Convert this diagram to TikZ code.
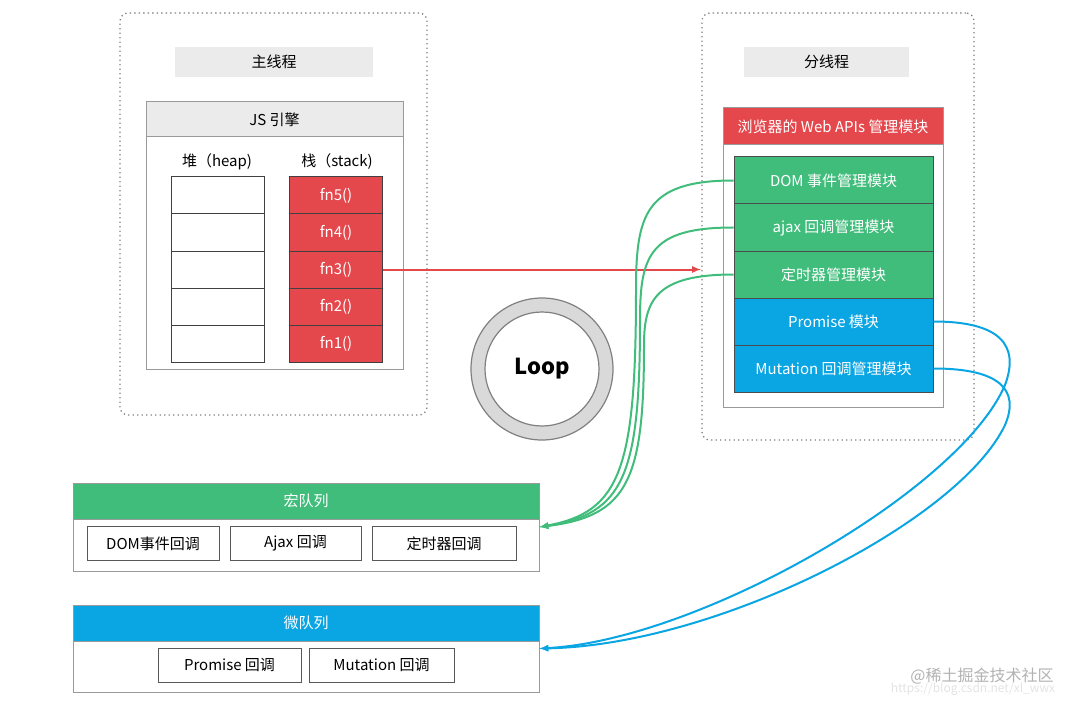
\documentclass[tikz,border=0pt]{standalone}
\usepackage{fontspec}
\setmainfont{Noto Sans CJK SC}
\usetikzlibrary{arrows}
\definecolor{redbox}{HTML}{E4484D}
\definecolor{greenbox}{HTML}{40BC7B}
\definecolor{bluebox}{HTML}{0AA5E3}
\definecolor{lightbar}{HTML}{EBEBEB}
\definecolor{framegray}{HTML}{9A9A9A}

\begin{document}
\begin{tikzpicture}[x=1pt,y=-1pt]
\tikzstyle{every node}=[rectangle, inner sep=0pt, font=\fontsize{15}{18}\selectfont]
\tikzstyle{thread}=[draw=gray, line width=1.3pt, dash pattern=on 1.3pt off 3.2pt, rounded corners=8pt]
\tikzstyle{titlebar}=[fill=lightbar, minimum height=30pt]
\tikzstyle{frame}=[draw=framegray, line width=1pt]
\tikzstyle{cell}=[draw=black!75, line width=1pt, minimum width=93pt, minimum height=37pt]
\tikzstyle{module}=[draw=black!70, line width=1pt, text=white, minimum width=199pt, minimum height=47pt]
\tikzstyle{cb}=[draw=black!65, line width=1pt, minimum height=34pt]
\tikzstyle{flow}=[line width=2pt, -latex]
\useasboundingbox (0,0) rectangle (1080,706);

% main thread
\draw (273.5,214) node (mainthread) [thread, minimum width=307pt, minimum height=402pt] {};
\draw (274,62) node (maintitle) [titlebar, minimum width=198pt] {主线程};
\draw (274.5,235.5) node (engine) [frame, minimum width=257pt, minimum height=267pt] {};
\draw (274.5,119.5) node (enginehead) [frame, fill=lightbar, minimum width=257pt, minimum height=35pt] {JS 引擎};
\draw (217,162) node (heaplabel) {堆（heap)};
\draw (337,162) node (stacklabel) {栈（stack)};
\draw (217.5,195.5) node (h5) [cell] {};
\draw (217.5,232.5) node (h4) [cell] {};
\draw (217.5,269.5) node (h3) [cell] {};
\draw (217.5,306.5) node (h2) [cell] {};
\draw (217.5,343.5) node (h1) [cell] {};
\draw (336,195.5) node (s5) [cell, fill=redbox, text=white] {fn5()};
\draw (336,232.5) node (s4) [cell, fill=redbox, text=white] {fn4()};
\draw (336,269.5) node (s3) [cell, fill=redbox, text=white] {fn3()};
\draw (336,306.5) node (s2) [cell, fill=redbox, text=white] {fn2()};
\draw (336,343.5) node (s1) [cell, fill=redbox, text=white] {fn1()};

% worker thread
\draw (838,226.5) node (subthread) [thread, minimum width=272pt, minimum height=427pt] {};
\draw (826.5,62) node (subtitle) [titlebar, minimum width=165pt] {分线程};
\draw (833,257.5) node (webapi) [frame, minimum width=220pt, minimum height=299pt] {};
\draw (833,126.5) node (webapihead) [frame, fill=redbox, text=white, minimum width=220pt, minimum height=37pt] {浏览器的 Web APIs 管理模块};
\draw (833.5,180.5) node (dom) [module, fill=greenbox] {DOM 事件管理模块};
\draw (833.5,227.5) node (ajax) [module, fill=greenbox] {ajax 回调管理模块};
\draw (833.5,274.5) node (timer) [module, fill=greenbox] {定时器管理模块};
\draw (833.5,321.5) node (promise) [module, fill=bluebox] {Promise 模块};
\draw (833.5,368.5) node (mutation) [module, fill=bluebox] {Mutation 回调管理模块};
\coordinate (apiin) at (701,269.5);

% event loop
\draw (542,369) node (loopring) [circle, draw=gray, fill=gray!30, line width=1.2pt, minimum size=142pt] {};
\draw (542,369) node (loop) [circle, draw=gray, fill=white, line width=1.2pt, minimum size=114pt, font=\fontsize{22}{26}\selectfont\bfseries] {Loop};

% queues
\draw (306,527) node (macroq) [frame, minimum width=466pt, minimum height=88pt] {};
\draw (306,501) node (macrohead) [frame, fill=greenbox, text=white, minimum width=466pt, minimum height=36pt] {宏队列};
\draw (153,543.5) node (domcb) [cb, minimum width=132pt] {DOM事件回调};
\draw (295.5,543.5) node (ajaxcb) [cb, minimum width=131pt] {Ajax 回调};
\draw (444,543.5) node (timercb) [cb, minimum width=144pt] {定时器回调};
\draw (306,648.5) node (microq) [frame, minimum width=466pt, minimum height=87pt] {};
\draw (306,623) node (microhead) [frame, fill=bluebox, text=white, minimum width=466pt, minimum height=36pt] {微队列};
\draw (229.5,665) node (promisecb) [cb, minimum width=143pt] {Promise 回调};
\draw (381.5,665) node (mutationcb) [cb, minimum width=145pt] {Mutation 回调};

% connectors
\draw [flow, redbox] (s3) -- (apiin);
\draw [flow, greenbox] (dom.west) .. controls (645,180.5) and (636,215) .. (636,290) .. controls (636,470) and (620,512) .. (macroq.east);
\draw [flow, greenbox] (ajax.west) .. controls (650,227.5) and (640,255) .. (640,320) .. controls (640,475) and (624,514) .. (macroq.east);
\draw [flow, greenbox] (timer.west) .. controls (656,274.5) and (644,300) .. (644,345) .. controls (644,480) and (628,516) .. (macroq.east);
\draw [flow, bluebox] (promise.east) .. controls (1000,321.5) and (1020,345) .. (1005,385) .. controls (960,490) and (700,640) .. (microq.east);
\draw [flow, bluebox] (mutation.east) .. controls (1000,368.5) and (1020,390) .. (1005,425) .. controls (960,520) and (720,645) .. (microq.east);

% watermark
\draw (982,676) node (mark) [text=gray!60, font=\fontsize{16}{18}\selectfont] {@稀土掘金技术社区};
\draw (973,689) node (url) [text=gray!22, font=\fontsize{12}{14}\selectfont] {https://blog.csdn.net/xl\_wwx};
\end{tikzpicture}
\end{document}
